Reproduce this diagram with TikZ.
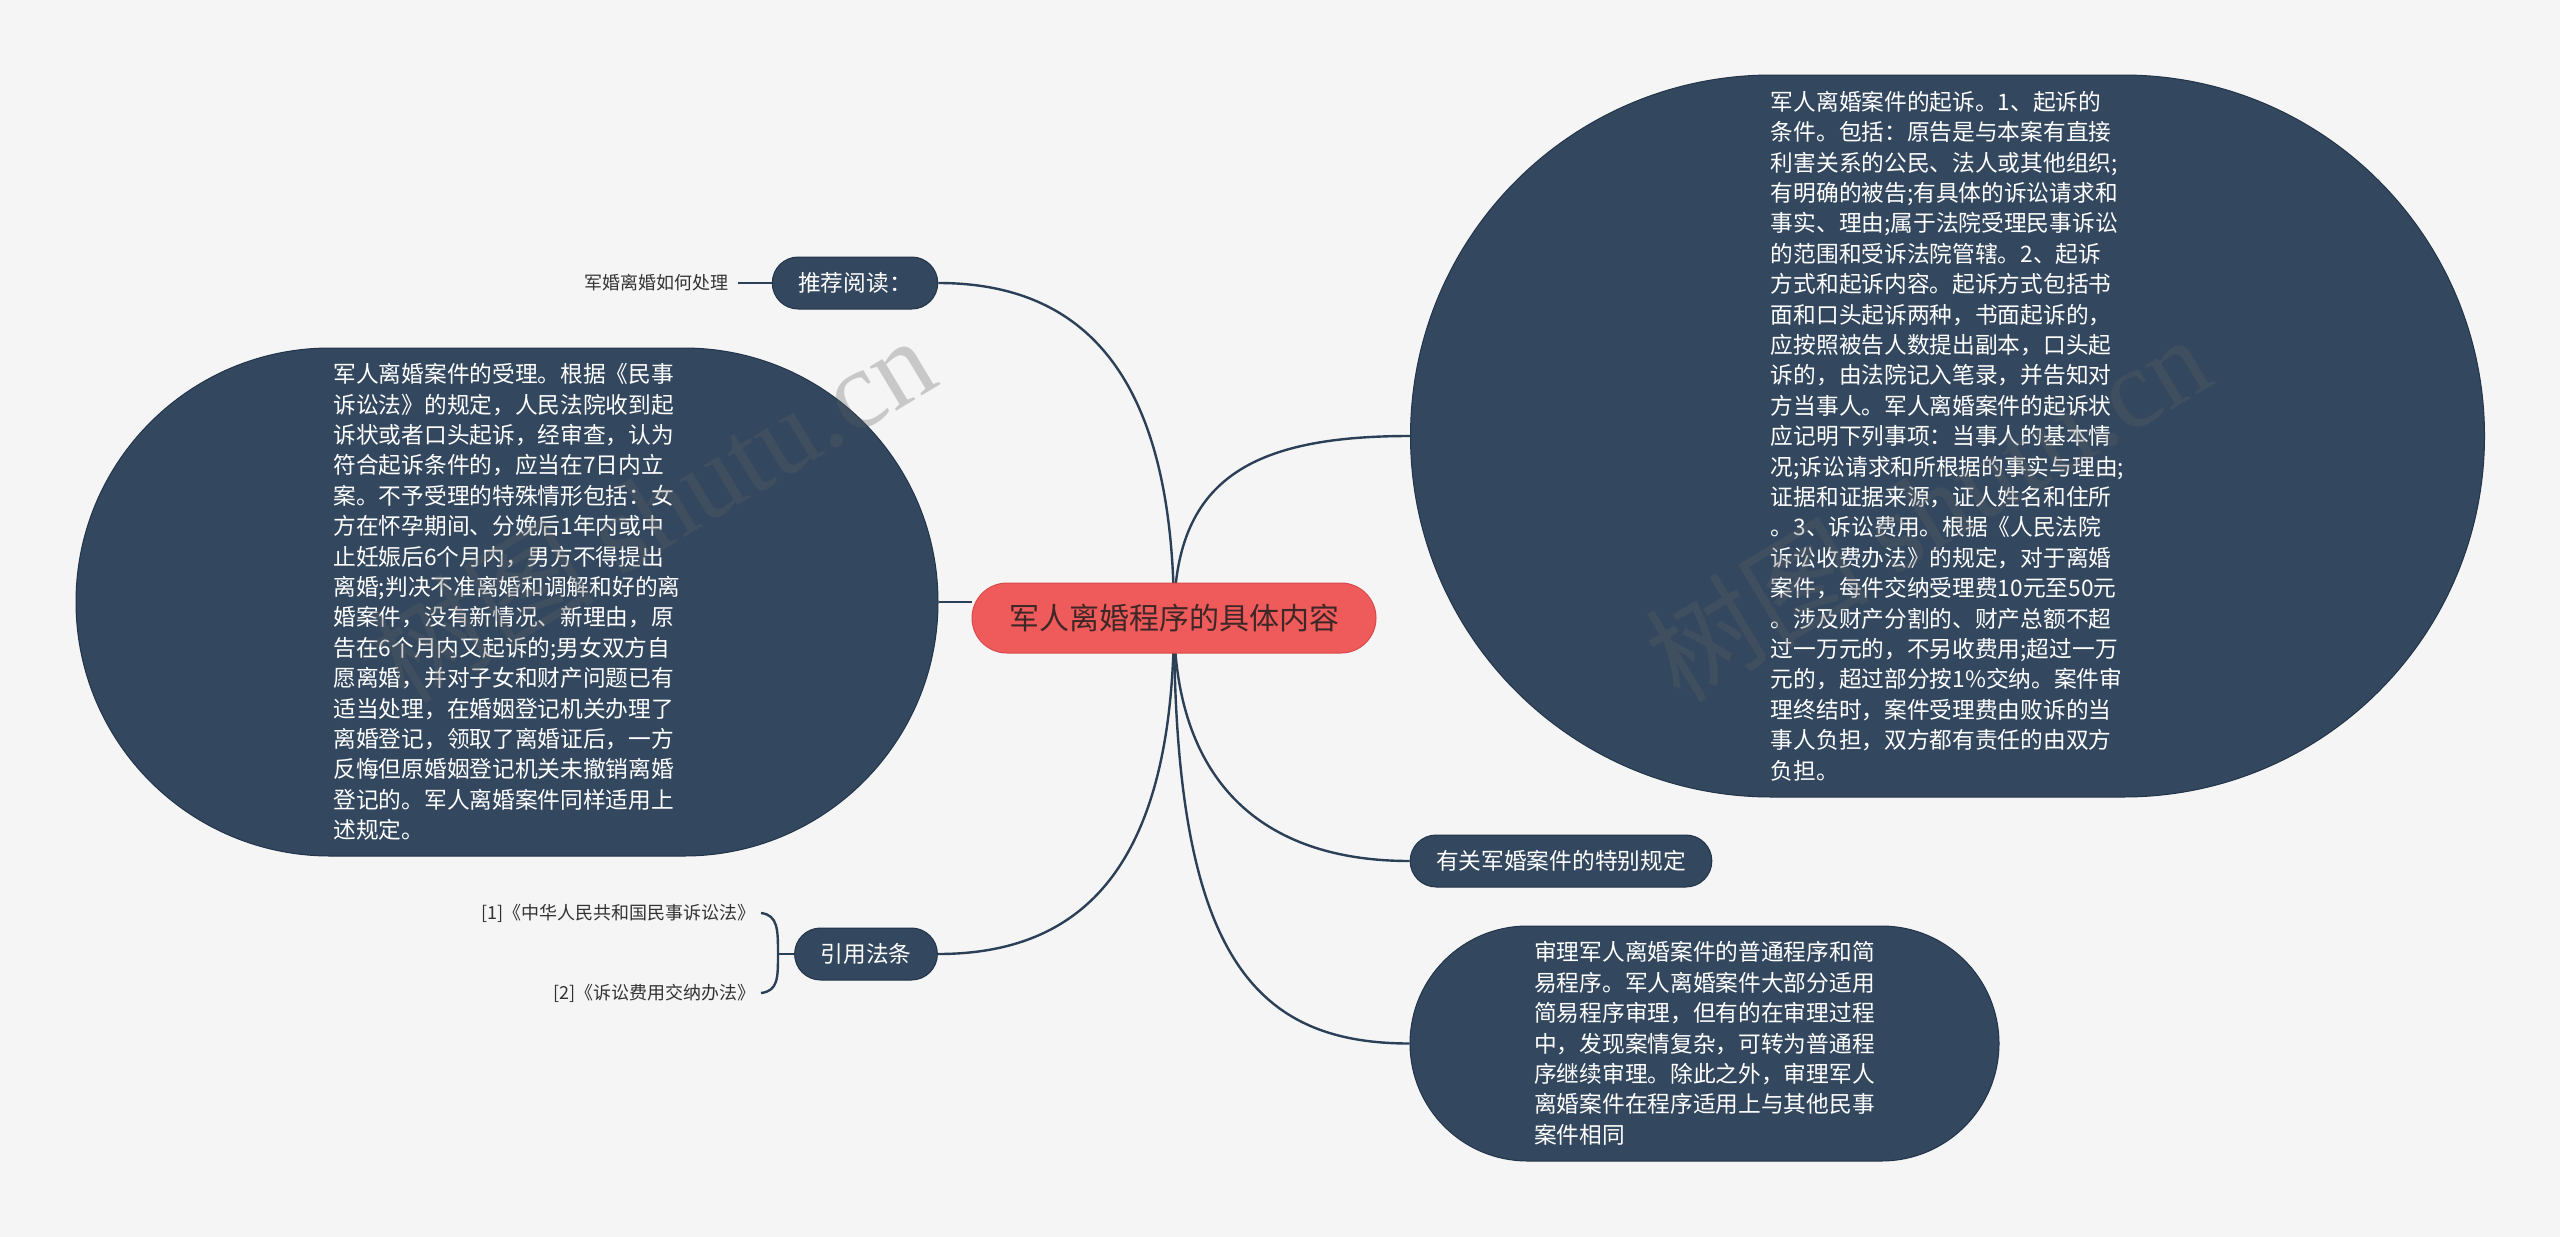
\documentclass[tikz,border=0pt]{standalone}
\usepackage{fontspec}
\usetikzlibrary{backgrounds}
\setmainfont{Noto Sans CJK SC}
\newfontfamily\wmlatin{Liberation Serif}
\definecolor{bg}{HTML}{F5F5F5}
\definecolor{navy}{HTML}{33485F}
\definecolor{navyedge}{HTML}{22344A}
\definecolor{linkc}{HTML}{2B3F56}
\definecolor{rootred}{HTML}{EF5A5A}
\definecolor{rootedge}{HTML}{D94B4B}
\definecolor{roottext}{HTML}{3E2727}
\definecolor{leaftext}{HTML}{333333}
\definecolor{wmgray}{HTML}{616161}
\tikzset{
  link/.style={draw=linkc, line width=2.4pt},
  rootbox/.style={fill=rootred, draw=rootedge, line width=1pt, text=roottext,
    minimum width=404pt, minimum height=70pt, rounded corners=35pt,
    font=\fontsize{30}{36}\selectfont},
  subbox/.style={fill=navy, draw=navyedge, line width=1pt, text=white,
    minimum height=52pt, rounded corners=26pt, inner xsep=26pt,
    font=\fontsize{22.7}{28}\selectfont},
  bigbox/.style={fill=navy, draw=navyedge, line width=1pt, text=white,
    align=left, font=\fontsize{22.7}{30.4}\selectfont},
  leaf/.style={text=leaftext, inner ysep=2pt, font=\fontsize{18}{22}\selectfont},
  watermark/.style={rotate=31, text=wmgray, opacity=0.3, font=\fontsize{112}{120}\selectfont}
}
\begin{document}
\begin{tikzpicture}[x=1pt,y=-1pt]
\begin{pgfonlayer}{background}
\path[use as bounding box, fill=bg] (0,0) rectangle (2560,1237);
\end{pgfonlayer}

% nodes
\node[rootbox] (root) at (1174,618) {军人离婚程序的具体内容};
\node[subbox] (rec) at (855,283) {推荐阅读：};
\node[leaf, anchor=east, inner xsep=9pt] (recleaf) at (738,283) {军婚离婚如何处理};
\node[subbox] (cite) at (866,954) {引用法条};
\node[leaf, anchor=east, inner xsep=5pt] (cite1) at (761,913) {[1]《中华人民共和国民事诉讼法》};
\node[leaf, anchor=east, inner xsep=5pt] (cite2) at (761,993) {[2]《诉讼费用交纳办法》};
\node[subbox] (spec) at (1561,861) {有关军婚案件的特别规定};

\node[bigbox, minimum width=862pt, minimum height=508pt, rounded corners=254pt] (accept) at (507,602) {%
军人离婚案件的受理。根据《民事\\
诉讼法》的规定，人民法院收到起\\
诉状或者口头起诉，经审查，认为\\
符合起诉条件的，应当在7日内立\\
案。不予受理的特殊情形包括：女\\
方在怀孕期间、分娩后1年内或中\\
止妊娠后6个月内，男方不得提出\\
离婚;判决不准离婚和调解和好的离\\
婚案件，没有新情况、新理由，原\\
告在6个月内又起诉的;男女双方自\\
愿离婚，并对子女和财产问题已有\\
适当处理，在婚姻登记机关办理了\\
离婚登记，领取了离婚证后，一方\\
反悔但原婚姻登记机关未撤销离婚\\
登记的。军人离婚案件同样适用上\\
述规定。};

\node[bigbox, minimum width=1074pt, minimum height=722pt, rounded corners=361pt] (sue) at (1947.5,436) {%
军人离婚案件的起诉。1、起诉的\\
条件。包括：原告是与本案有直接\\
利害关系的公民、法人或其他组织;\\
有明确的被告;有具体的诉讼请求和\\
事实、理由;属于法院受理民事诉讼\\
的范围和受诉法院管辖。2、起诉\\
方式和起诉内容。起诉方式包括书\\
面和口头起诉两种，书面起诉的，\\
应按照被告人数提出副本，口头起\\
诉的，由法院记入笔录，并告知对\\
方当事人。军人离婚案件的起诉状\\
应记明下列事项：当事人的基本情\\
况;诉讼请求和所根据的事实与理由;\\
证据和证据来源，证人姓名和住所\\
。3、诉讼费用。根据《人民法院\\
诉讼收费办法》的规定，对于离婚\\
案件，每件交纳受理费10元至50元\\
。涉及财产分割的、财产总额不超\\
过一万元的，不另收费用;超过一万\\
元的，超过部分按1\%交纳。案件审\\
理终结时，案件受理费由败诉的当\\
事人负担，双方都有责任的由双方\\
负担。};

\node[bigbox, minimum width=589pt, minimum height=235pt, rounded corners=117.5pt] (trial) at (1704.5,1043.5) {%
审理军人离婚案件的普通程序和简\\
易程序。军人离婚案件大部分适用\\
简易程序审理，但有的在审理过程\\
中，发现案情复杂，可转为普通程\\
序继续审理。除此之外，审理军人\\
离婚案件在程序适用上与其他民事\\
案件相同};

% connectors behind nodes
\begin{pgfonlayer}{background}
\draw[link] (root.center) .. controls (1174,390) and (1095,283) .. (rec.east);
\draw[link] (root.center) .. controls (1174,480) and (1250,436) .. (sue.west);
\draw[link] (root.center) .. controls (1174,780) and (1260,861) .. (spec.west);
\draw[link] (root.center) .. controls (1174,950) and (1250,1043.5) .. (trial.west);
\draw[link] (root.center) .. controls (1174,870) and (1080,954) .. (cite.east);
\draw[link] (accept.east) -- (accept.east -| root.west);
\draw[link, line width=2pt] (recleaf.east) -- (rec.west);
\coordinate (bmid) at (778,954);
\draw[link] (cite1.east) .. controls (778,915) and (778,930) .. (bmid) .. controls (778,978) and (778,991) .. (cite2.east);
\draw[link] (bmid) -- (cite.west);
\end{pgfonlayer}

% watermarks
\node[watermark] (wm1) at (652,508) {树图 {\wmlatin shutu.cn}};
\node[watermark] (wm2) at (1927,507) {树图 {\wmlatin shutu.cn}};
\end{tikzpicture}
\end{document}
